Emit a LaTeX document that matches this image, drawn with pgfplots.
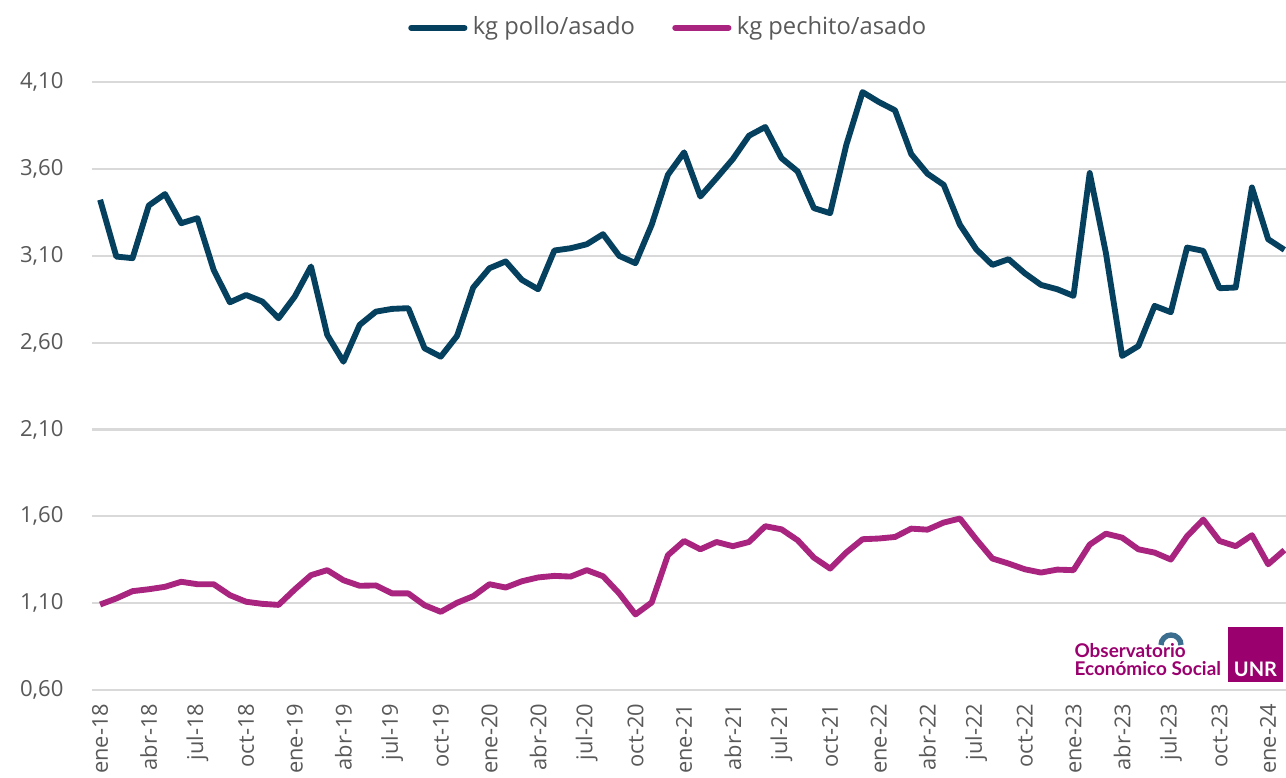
\documentclass[border=0pt]{standalone}
\usepackage{fontspec}
\setmainfont{Open Sans}
\newfontfamily\logofont{Lato}
\usepackage{pgfplots}
\pgfplotsset{compat=1.18}
\definecolor{Pollo}{HTML}{05405F}
\definecolor{Pechito}{HTML}{A8247F}
\definecolor{GridC}{HTML}{D9D9D9}
\definecolor{TxtC}{HTML}{595959}
\definecolor{LogoM}{HTML}{9A006E}
\definecolor{LogoB}{HTML}{3C6E90}

\pgfplotstableread{
i pollo pechito
0 3.422 1.092
1 3.095 1.127
2 3.086 1.169
3 3.389 1.180
4 3.455 1.194
5 3.287 1.223
6 3.316 1.209
7 3.018 1.209
8 2.832 1.146
9 2.874 1.108
10 2.836 1.096
11 2.740 1.090
12 2.865 1.179
13 3.038 1.261
14 2.644 1.290
15 2.490 1.232
16 2.702 1.200
17 2.778 1.202
18 2.794 1.156
19 2.798 1.156
20 2.567 1.088
21 2.519 1.050
22 2.638 1.102
23 2.917 1.140
24 3.028 1.209
25 3.067 1.190
26 2.961 1.226
27 2.907 1.248
28 3.130 1.257
29 3.143 1.253
30 3.166 1.290
31 3.224 1.255
32 3.099 1.156
33 3.057 1.035
34 3.278 1.104
35 3.566 1.376
36 3.695 1.458
37 3.441 1.410
38 3.547 1.452
39 3.656 1.428
40 3.791 1.452
41 3.841 1.543
42 3.662 1.525
43 3.585 1.462
44 3.374 1.362
45 3.345 1.299
46 3.739 1.392
47 4.042 1.468
48 3.985 1.472
49 3.937 1.481
50 3.685 1.529
51 3.572 1.523
52 3.508 1.564
53 3.278 1.587
54 3.138 1.468
55 3.047 1.357
56 3.080 1.328
57 2.999 1.295
58 2.932 1.276
59 2.907 1.293
60 2.869 1.290
61 3.576 1.437
62 3.115 1.500
63 2.523 1.477
64 2.580 1.410
65 2.811 1.391
66 2.775 1.351
67 3.147 1.485
68 3.128 1.581
69 2.913 1.458
70 2.917 1.428
71 3.493 1.491
72 3.195 1.324
73 3.134 1.405
}\datatable

\begin{document}
\begin{tikzpicture}
\path[use as bounding box] (0,0) rectangle (482.25pt,291.375pt);
\begin{axis}[at={(34.5pt,32.625pt)},anchor=south west,
  scale only axis,width=447.75pt,height=228pt,
  xmin=-0.5,xmax=73.1,ymin=0.6,ymax=4.1,
  axis line style={draw=none},
  major tick length=0pt,
  ymajorgrids,grid style={GridC,line width=0.8pt},
  ytick={0.6,1.1,1.6,2.1,2.6,3.1,3.6,4.1},
  /pgf/number format/fixed,
  /pgf/number format/fixed zerofill,
  /pgf/number format/precision=2,
  /pgf/number format/use comma,
  /pgf/number format/assume math mode=true,
  y tick label style={font=\fontsize{8.3}{10}\selectfont,text=TxtC,inner sep=0pt,xshift=-10.5pt},
  xtick={0,3,...,72},
  xticklabels={ene-18,abr-18,jul-18,oct-18,ene-19,abr-19,jul-19,oct-19,ene-20,abr-20,jul-20,oct-20,ene-21,abr-21,jul-21,oct-21,ene-22,abr-22,jul-22,oct-22,ene-23,abr-23,jul-23,oct-23,ene-24},
  x tick label style={font=\fontsize{8.2}{10}\selectfont,text=TxtC,rotate=90,anchor=east,inner sep=0pt,xshift=-5pt},
  legend columns=2,
  legend style={draw=none,fill=none,at={(0.484,1.089)},anchor=center,font=\fontsize{8.9}{10}\selectfont,text=TxtC,
    /tikz/every even column/.append style={column sep=12pt},inner sep=0pt},
  legend image code/.code={\draw[#1,line width=2.2pt,line cap=round] (0pt,0pt) -- (20pt,0pt);},
  ]
\addplot[Pollo,line width=2.2pt,line join=round] table[x=i,y=pollo]{\datatable};
\addlegendentry{kg pollo/asado}
\addplot[Pechito,line width=2.2pt,line join=round] table[x=i,y=pechito]{\datatable};
\addlegendentry{kg pechito/asado}
\end{axis}
\begin{scope}[x=0.375pt,y=-0.375pt,shift={(0pt,291.375pt)}]
\fill[LogoM] (1228,627) rectangle (1283,682);
\node[text=white,font=\logofont\bfseries\fontsize{7.5}{8}\selectfont,anchor=base] at (1255.5,676) {UNR};
\node[text=LogoM,font=\logofont\bfseries\fontsize{7.1}{8}\selectfont,anchor=base west,inner sep=0pt] at (1074,657) {Observatorio};
\node[text=LogoM,font=\logofont\bfseries\fontsize{7.1}{8}\selectfont,anchor=base west,inner sep=0pt] at (1074,675) {Económico Social};
\draw[LogoB,line width=2pt] (1161,645) arc[start angle=180,end angle=360,radius=10];
\end{scope}
\end{tikzpicture}
\end{document}
